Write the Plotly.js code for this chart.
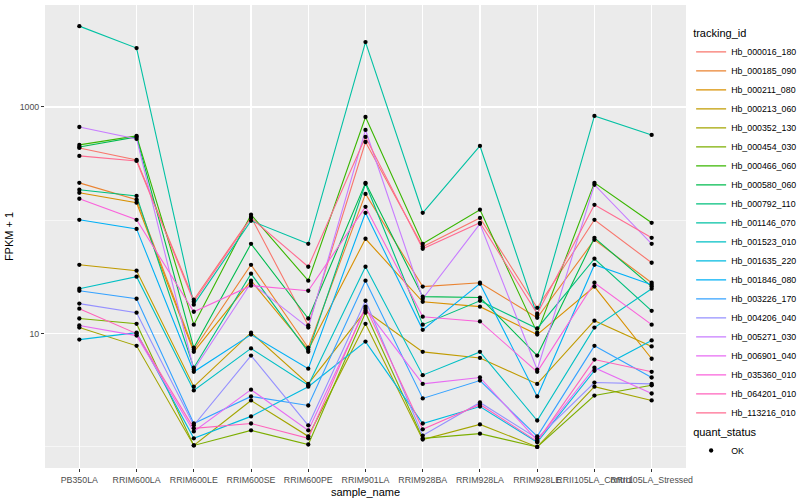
<!DOCTYPE html>
<html>
<head>
<meta charset="utf-8">
<script src="https://cdn.plot.ly/plotly-3.0.1.min.js"></script>
<style>html,body{margin:0;padding:0;background:#fff;}#chart{width:800px;height:500px;}</style>
</head>
<body>
<div id="chart"></div>
<script>
// Categories (x axis)
const categories = ["PB350LA","RRIM600LA","RRIM600LE","RRIM600SE","RRIM600PE","RRIM901LA","RRIM928BA","RRIM928LA","RRIM928LE","RRII105LA_Control","RRII105LA_Stressed"];

// Series names (legend order)
const seriesNames = ["Hb_000016_180","Hb_000185_090","Hb_000211_080","Hb_000213_060","Hb_000352_130","Hb_000454_030","Hb_000466_060","Hb_000580_060","Hb_000792_110","Hb_001146_070","Hb_001523_010","Hb_001635_220","Hb_001846_080","Hb_003226_170","Hb_004206_040","Hb_005271_030","Hb_006901_040","Hb_035360_010","Hb_064201_010","Hb_113216_010"];

// FPKM + 1 values per series, one value per category
const hb_000016_180 = [435, 341, 19.9, 107, 11.8, 491, 58.4, 105, 16.9, 101, 42.2];
const hb_000185_090 = [214, 152, 7.2, 40.5, 7.5, 171, 26.0, 28.1, 13.8, 67.3, 28.1];
const hb_000211_080 = [175, 143, 6.9, 29.3, 7.2, 68.7, 19.1, 17.3, 9.8, 26.0, 6.0];
const hb_000213_060 = [40.5, 35.9, 3.4, 10.2, 3.6, 15.9, 6.9, 6.1, 3.6, 13.0, 7.7];
const hb_000352_130 = [11.3, 7.8, 1.03, 2.57, 1.24, 12.2, 1.16, 1.58, 1.0, 3.4, 2.57];
const hb_000454_030 = [13.6, 12.2, 1.03, 1.40, 1.05, 15.3, 1.19, 1.31, 1.0, 2.84, 3.5];
const hb_000466_060 = [463, 555, 12.0, 112, 29.3, 816, 62, 124, 10.2, 214, 95];
const hb_000580_060 = [444, 544, 7.5, 62, 13.6, 214, 21.2, 20.8, 6.4, 70, 26.0];
const hb_000792_110 = [186, 164, 5.0, 33.8, 6.9, 210, 12.0, 19.5, 11.1, 45.8, 15.9];
const hb_001146_070 = [5170, 3310, 18.0, 99, 62, 3740, 116.5, 453, 14.4, 833, 567];
const hb_001523_010 = [24.9, 31.8, 3.15, 7.4, 3.5, 38.9, 4.3, 6.9, 1.71, 11.3, 24.9];
const hb_001635_220 = [8.85, 10.2, 1.19, 1.86, 3.4, 8.5, 1.61, 2.27, 1.10, 4.7, 8.7];
const hb_001846_080 = [101, 84, 4.6, 9.8, 4.9, 116.5, 10.8, 27.6, 2.79, 40.5, 27.0];
const hb_003226_170 = [23.9, 20.3, 1.61, 2.79, 2.32, 29.3, 2.68, 3.85, 1.24, 7.8, 4.1];
const hb_004206_040 = [18.4, 15.3, 1.55, 6.4, 1.55, 19.5, 1.26, 2.47, 1.19, 3.7, 3.6];
const hb_005271_030 = [666, 523, 4.8, 28.1, 11.3, 627, 20.3, 93, 4.8, 206, 62];
const hb_006901_040 = [11.8, 9.6, 1.37, 3.2, 1.40, 16.6, 3.6, 4.1, 1.14, 5.0, 2.96];
const hb_035360_010 = [155, 101, 15.6, 26.5, 23.9, 131.5, 14.1, 12.8, 4.6, 28.1, 12.0];
const hb_064201_010 = [16.6, 10.0, 1.46, 1.61, 1.19, 17.3, 1.43, 2.37, 1.12, 5.9, 4.6];
const hb_113216_010 = [370, 334, 19.1, 105, 38.9, 544, 56.1, 95, 15.0, 137, 70];

const seriesValues = [hb_000016_180, hb_000185_090, hb_000211_080, hb_000213_060, hb_000352_130, hb_000454_030, hb_000466_060, hb_000580_060, hb_000792_110, hb_001146_070, hb_001523_010, hb_001635_220, hb_001846_080, hb_003226_170, hb_004206_040, hb_005271_030, hb_006901_040, hb_035360_010, hb_064201_010, hb_113216_010];

// y tick labels
const yTickVals = [10, 1000];
const yTickText = ["10", "1000"];
const yMinorVals = [1, 100];

// quant_status
const quantStatus = "OK";

// ggplot2 hue palette for 20 levels
const palette = ["#F8766D","#EA8331","#D89000","#C09B00","#A3A500","#7CAE00","#39B600","#00BB4E","#00BF7D","#00C1A3","#00BFC4","#00BAE0","#00B0F6","#35A2FF","#9590FF","#C77CFF","#E76BF3","#FA62DB","#FF62BC","#FF6C91"];

const FONT = "Liberation Sans, Arial, Helvetica, sans-serif";

const traces = seriesNames.map((name, i) => ({
  type: "scatter",
  mode: "lines",
  name: name,
  x: categories,
  y: seriesValues[i],
  line: { color: palette[i], width: 1.1 },
  legend: "legend",
  hoverinfo: "skip"
}));

const px = [], py = [];
seriesValues.forEach(vals => vals.forEach((v, j) => { px.push(categories[j]); py.push(v); }));
traces.push({
  type: "scatter",
  mode: "markers",
  name: quantStatus,
  x: px,
  y: py,
  marker: { color: "#000000", size: 4.3 },
  legend: "legend2",
  hoverinfo: "skip"
});

const layout = {
  width: 800,
  height: 500,
  margin: { l: 45, r: 114, t: 5, b: 32, autoexpand: false },
  paper_bgcolor: "#FFFFFF",
  plot_bgcolor: "#EBEBEB",
  font: { family: FONT, color: "#000000" },
  showlegend: true,
  xaxis: {
    type: "category",
    range: [-0.6, 10.6],
    showgrid: true,
    gridcolor: "#FFFFFF",
    gridwidth: 1.1,
    zeroline: false,
    showline: false,
    ticks: "outside",
    ticklen: 3,
    tickwidth: 1,
    tickcolor: "#333333",
    tickangle: 0,
    automargin: false,
    tickfont: { family: FONT, size: 8.8, color: "#4D4D4D" },
    title: { text: "sample_name", font: { family: FONT, size: 11, color: "#000000" }, standoff: 4 }
  },
  yaxis: {
    type: "log",
    range: [-0.186, 3.9],
    tickvals: yTickVals,
    ticktext: yTickText,
    showgrid: true,
    gridcolor: "#FFFFFF",
    gridwidth: 1.1,
    minor: { tickvals: yMinorVals, showgrid: true, gridcolor: "#FFFFFF", gridwidth: 0.55, ticks: "" },
    zeroline: false,
    showline: false,
    ticks: "outside",
    ticklen: 3,
    tickwidth: 1,
    tickcolor: "#333333",
    automargin: false,
    tickfont: { family: FONT, size: 8.8, color: "#4D4D4D" },
    title: { text: "FPKM + 1", font: { family: FONT, size: 11, color: "#000000" }, standoff: 3 }
  },
  legend: {
    x: 1.008, xanchor: "left", y: 0.961, yanchor: "top",
    bgcolor: "rgba(0,0,0,0)",
    itemwidth: 30,
    tracegroupgap: 0,
    font: { family: FONT, size: 8.8, color: "#000000" },
    title: { text: "tracking_id", font: { family: FONT, size: 11, color: "#000000" } }
  },
  legend2: {
    x: 1.008, xanchor: "left", y: 0.1, yanchor: "top",
    bgcolor: "rgba(0,0,0,0)",
    itemwidth: 30,
    font: { family: FONT, size: 8.8, color: "#000000" },
    title: { text: "quant_status", font: { family: FONT, size: 11, color: "#000000" } }
  }
};

Plotly.newPlot("chart", traces, layout, { displayModeBar: false, staticPlot: true });
</script>
</body>
</html>
